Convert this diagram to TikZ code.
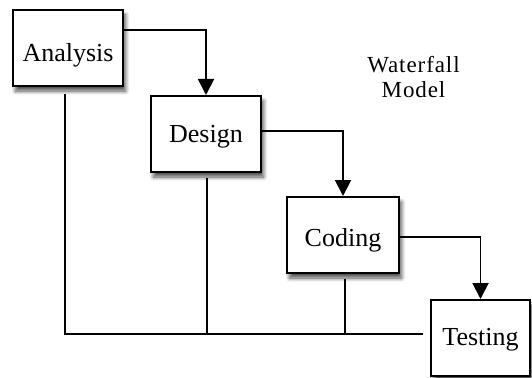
\documentclass[tikz,border=0pt]{standalone}
\usepackage{fontspec}
\setmainfont{Liberation Serif}
\newfontfamily\titlefont[LetterSpace=4]{Liberation Serif}
\usetikzlibrary{arrows.meta,shadows.blur}
\begin{document}
\begin{tikzpicture}[x=1pt,y=-1pt,
  stage/.style={draw=black, line width=2pt, fill=white, minimum height=76pt,
    inner sep=0pt, text depth=6pt, font=\fontsize{26}{30}\selectfont,
    blur shadow={shadow xshift=2.5pt, shadow yshift=-5pt, shadow blur radius=4pt, shadow blur steps=8, shadow opacity=70}},
  flow/.style={line width=1.9pt, -{Triangle[width=16pt,length=16pt]}},
  link/.style={line width=1.8pt},
  title/.style={align=center, inner sep=0pt, font=\titlefont\fontsize{23}{25}\selectfont}]
\useasboundingbox (0,0) rectangle (532,377);

\node[stage, minimum width=110pt, text height=34pt] (analysis) at (68,48) {Analysis};
\node[stage, minimum width=110pt, text height=22pt] (design) at (206,134) {Design};
\node[stage, minimum width=112pt, text height=29pt] (coding) at (343,235) {Coding};
\node[stage, minimum width=99pt, text height=20pt] (testing) at (480.5,338) {Testing};

\node[title] (caption) at (413.5,76.7) {Waterfall\\Model};

\draw[flow] ([yshift=18pt]analysis.east) -| (design.north);
\draw[flow] ([yshift=3pt]design.east) -| (coding.north);
\draw[flow] ([yshift=-2pt]coding.east) -| (testing.north);

\coordinate (busend) at (423,334);
\draw[link] ([xshift=-3pt,yshift=-7pt]analysis.south) |- (busend);
\draw[link] ([xshift=1pt,yshift=-5pt]design.south) -- ([xshift=1pt]design.south |- busend);
\draw[link] ([xshift=2pt,yshift=-5pt]coding.south) -- ([xshift=2pt]coding.south |- busend);
\end{tikzpicture}
\end{document}
